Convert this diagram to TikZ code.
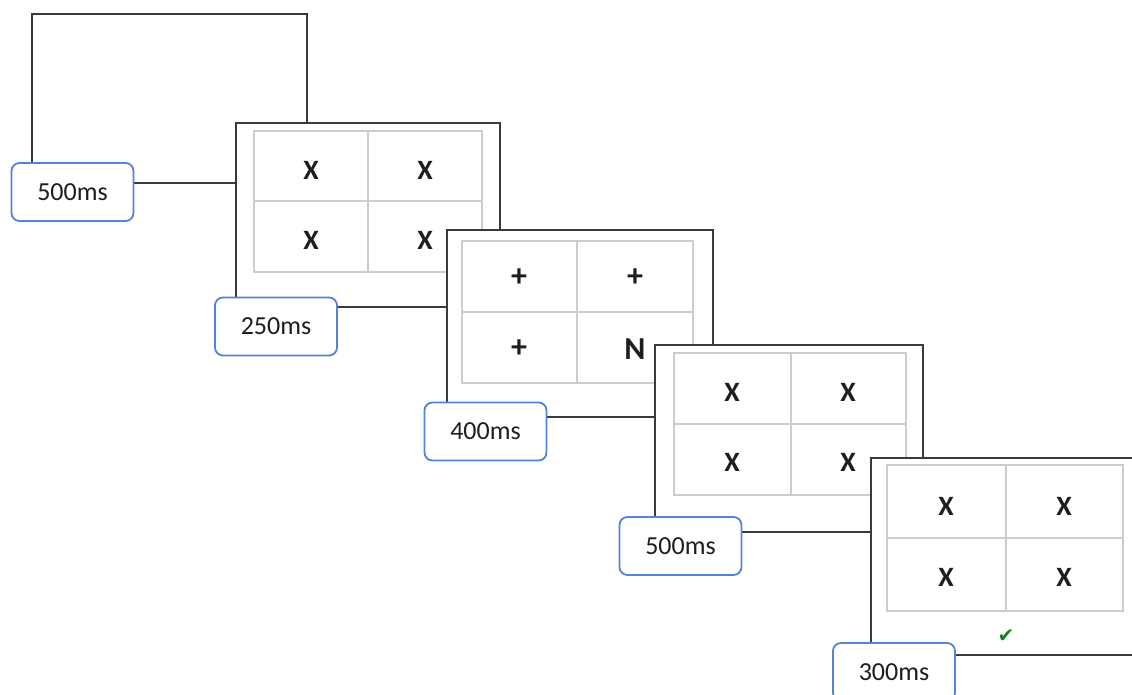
\documentclass[tikz,border=0pt]{standalone}
\usepackage{fontspec}
\setmainfont{Carlito}
\newfontfamily\symfont{DejaVu Sans}
\definecolor{framegray}{RGB}{58,58,58}
\definecolor{gridgray}{RGB}{205,205,205}
\definecolor{tagblue}{RGB}{84,132,212}
\definecolor{inkgray}{RGB}{30,30,30}
\definecolor{okgreen}{RGB}{20,130,30}
\tikzset{
  screen/.style={rectangle, draw=framegray, line width=1pt, fill=white,
    inner sep=0pt, outer sep=0pt, anchor=north west},
  gridline/.style={draw=gridgray, line width=0.7pt},
  timetag/.style={rectangle, draw=tagblue, line width=0.9pt, fill=white,
    rounded corners=4pt, minimum width=61pt, minimum height=29pt,
    inner sep=0pt, text=inkgray, font=\fontsize{13}{15}\selectfont},
  cellsym/.style={inner sep=0pt, text=inkgray, font=\bfseries\fontsize{14}{16}\selectfont},
  bigsym/.style={inner sep=0pt, text=inkgray, font=\bfseries\fontsize{16}{18}\selectfont},
}
\begin{document}
\begin{tikzpicture}[x=0.5pt, y=-0.5pt]
\clip (0,0) rectangle (1132,695);
\fill[white] (0,0) rectangle (1132,695);

% blank screen
\node[screen, minimum width=137.5pt, minimum height=84.5pt] (s0) at (32,14) {};
\node[timetag] (t0) at (72.5,192) {500ms};

% screen 1: four X
\node[screen, minimum width=132pt, minimum height=92pt] (s1) at (236,123) {};
\draw[gridline] (254,131) rectangle (482,272) (368,131) -- (368,272) (254,201) -- (482,201);
\node[cellsym] (s1a) at (311,170) {X};
\node[cellsym] (s1b) at (425,170) {X};
\node[cellsym] (s1c) at (311,240) {X};
\node[cellsym] (s1d) at (425,240) {X};
\node[timetag] (t1) at (276,326.5) {250ms};

% screen 2: three + and the N
\node[screen, minimum width=133pt, minimum height=93.5pt] (s2) at (447,230) {};
\draw[gridline] (462,241) rectangle (693,383) (577,241) -- (577,383) (462,312) -- (693,312);
\node[bigsym] (s2a) at (519,278) {+};
\node[bigsym] (s2b) at (635,278) {+};
\node[bigsym] (s2c) at (519,349) {+};
\node[bigsym] (s2d) at (635,349) {N};
\node[timetag] (t2) at (485.5,431.5) {400ms};

% screen 3: four X
\node[screen, minimum width=134pt, minimum height=93.5pt] (s3) at (655,345) {};
\draw[gridline] (674,353) rectangle (906,495) (791,353) -- (791,495) (674,424) -- (906,424);
\node[cellsym] (s3a) at (732,392) {X};
\node[cellsym] (s3b) at (848,392) {X};
\node[cellsym] (s3c) at (732,462) {X};
\node[cellsym] (s3d) at (848,462) {X};
\node[timetag] (t3) at (680.5,546) {500ms};

% screen 4: four X and the feedback tick
\node[screen, minimum width=139.5pt, minimum height=98.5pt] (s4) at (871,458) {};
\draw[gridline] (887,465) rectangle (1123,611) (1006,465) -- (1006,611) (887,538) -- (1123,538);
\node[cellsym] (s4a) at (946,506) {X};
\node[cellsym] (s4b) at (1064,506) {X};
\node[cellsym] (s4c) at (946,577) {X};
\node[cellsym] (s4d) at (1064,577) {X};
\node[inner sep=0pt, text=okgreen, font=\symfont\fontsize{10}{10}\selectfont] (ok) at (1006,636) {✔};
\node[timetag] (t4) at (894,672) {300ms};
\end{tikzpicture}
\end{document}
